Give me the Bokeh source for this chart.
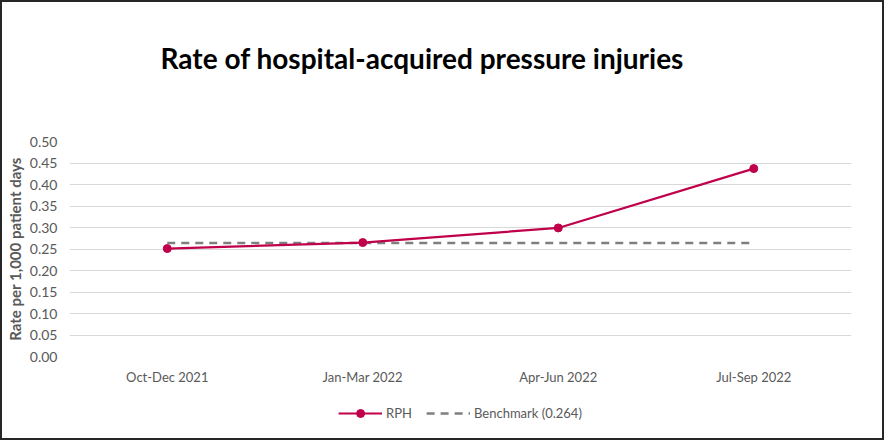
from bokeh.plotting import figure
from bokeh.layouts import column
from bokeh.models import (FactorRange, Range1d, Legend, LegendItem, ColumnDataSource,
                          SingleIntervalTicker, NumeralTickFormatter, Div)
from bokeh.embed import file_html
from bokeh.resources import INLINE

title_text = "Rate of hospital-acquired pressure injuries"
categories = ["Oct-Dec 2021", "Jan-Mar 2022", "Apr-Jun 2022", "Jul-Sep 2022"]
rph = [0.251, 0.265, 0.299, 0.437]
benchmark_value = 0.264
benchmark = [benchmark_value] * len(categories)
legend_labels = ["RPH", "Benchmark (0.264)"]

RED = "#C0004A"
GREY_LINE = "#7F7F7F"
GREY_TXT = "#595959"
FONT = "Lato"

title_div = Div(
    text=f'<div style="font-family:Lato;font-size:28px;font-weight:bold;color:#000;'
         f'text-align:center;line-height:34px;padding-top:39px;padding-right:40px;'
         f'box-sizing:border-box;width:880px;">{title_text}</div>',
    width=880, height=100, margin=0)

p = figure(width=880, height=286, x_range=FactorRange(*categories),
           y_range=Range1d(0, 0.5), output_backend="svg", toolbar_location=None,
           min_border_left=65, min_border_right=31, min_border_top=39, min_border_bottom=32,
           margin=0)

src = ColumnDataSource(dict(x=categories, y=rph, b=benchmark))
p.line("x", "b", source=src, line_color=GREY_LINE, line_width=2.5, line_dash="8 6")
p.line("x", "y", source=src, line_color=RED, line_width=2.2)
p.scatter("x", "y", source=src, size=8, fill_color=RED, line_color=RED)

p.outline_line_color = None
p.xgrid.grid_line_color = None
p.ygrid.grid_line_color = "#D9D9D9"
p.ygrid.grid_line_width = 1.2

p.yaxis.ticker = SingleIntervalTicker(interval=0.05)
p.yaxis.formatter = NumeralTickFormatter(format="0.00")
for ax in (p.xaxis[0], p.yaxis[0]):
    ax.axis_line_color = None
    ax.major_tick_line_color = None
    ax.minor_tick_line_color = None
    ax.major_tick_out = 0
    ax.major_tick_in = 0
    ax.minor_tick_out = 0
    ax.minor_tick_in = 0
    ax.major_label_text_font = FONT
    ax.major_label_text_font_size = "13px"
    ax.major_label_text_color = GREY_TXT
p.yaxis.major_label_text_font_size = "14px"
p.yaxis.major_label_standoff = 12
p.xaxis.major_label_standoff = 12
p.yaxis.axis_label = "Rate per 1,000 patient days"
p.yaxis.axis_label_text_font = FONT
p.yaxis.axis_label_text_font_size = "15px"
p.yaxis.axis_label_text_font_style = "bold"
p.yaxis.axis_label_text_color = GREY_TXT
p.yaxis.axis_label_standoff = 3

# legend strip below the chart: same series drawn off-frame so only the legend shows
lf = figure(width=880, height=50, x_range=FactorRange(*categories), y_range=Range1d(10, 11),
            output_backend="svg", toolbar_location=None, min_border=0, margin=0)
lf.axis.visible = False
lf.grid.visible = False
lf.outline_line_color = None
g_rl = lf.line("x", "y", source=src, line_color=RED, line_width=2.2)
g_rs = lf.scatter("x", "y", source=src, size=8, fill_color=RED, line_color=RED)
g_bl = lf.line("x", "b", source=src, line_color=GREY_LINE, line_width=2.5, line_dash="8 6")
legend = Legend(items=[LegendItem(label=legend_labels[0], renderers=[g_rl, g_rs]),
                       LegendItem(label=legend_labels[1], renderers=[g_bl])],
                orientation="horizontal", location="center",
                label_text_font=FONT, label_text_font_size="13px", label_text_color=GREY_TXT,
                glyph_width=44, glyph_height=20, label_standoff=4, spacing=14,
                border_line_color=None, background_fill_alpha=0, margin=0, padding=0)
lf.add_layout(legend, "center")

layout = column(title_div, p, lf, spacing=0,
                styles={"border": "2px solid #262626", "background-color": "white"})

open("out.html", "w").write(file_html(layout, INLINE))
